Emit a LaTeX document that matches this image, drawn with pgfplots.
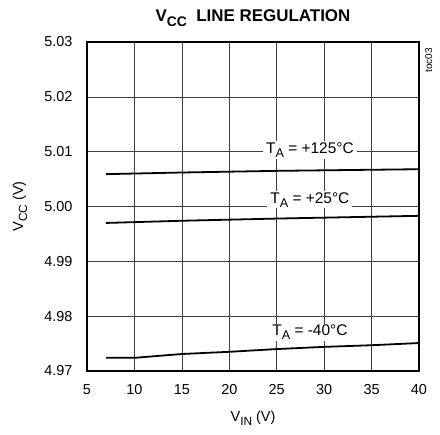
\documentclass[border=0pt]{standalone}
\usepackage{fontspec}
\setmainfont{Liberation Sans}
\usepackage{pgfplots}
\pgfplotsset{compat=1.18}
\newcommand{\sub}[1]{\raisebox{-0.28em}{\scalebox{0.82}{#1}}}

\begin{document}
\begin{tikzpicture}
\begin{axis}[
    at={(0,0)}, anchor=south west,
    scale only axis,
    width=332bp, height=329bp,
    xmin=5, xmax=40,
    ymin=4.97, ymax=5.03,
    xtick={5,10,...,40},
    ytick={4.97,4.98,4.99,5.00,5.01,5.02,5.03},
    /pgf/number format/assume math mode=true,
    ticklabel style={font=\fontsize{14.5}{14.5}\selectfont},
    xticklabel style={yshift=-10bp},
    yticklabel style={xshift=-11bp, /pgf/number format/.cd, fixed, fixed zerofill, precision=2},
    tick style={draw=none},
    grid=major,
    grid style={black!75, line width=0.6pt},
    axis line style={line width=1.8pt},
    xlabel={V\sub{IN} (V)},
    ylabel={V\sub{CC} (V)},
    label style={font=\fontsize{14.5}{14.5}\selectfont},
    xlabel style={at={(axis description cs:0.5,0)}, anchor=center, yshift=-47bp},
    ylabel style={at={(axis description cs:0,0.5)}, anchor=center, rotate=0, yshift=67bp},
    title={\bfseries V\sub{CC}\ \ LINE REGULATION},
    title style={font=\fontsize{17}{17}\selectfont, at={(axis description cs:0.5,1)}, anchor=center, yshift=18bp},
    clip=false,
]
\addplot[black, line width=1.8pt] coordinates {
    (7, 5.0059) (15, 5.0062) (25, 5.0065) (40, 5.0068)
};
\addplot[black, line width=1.8pt] coordinates {
    (7, 4.9970) (15, 4.9974) (25, 4.9978) (40, 4.9983)
};
\addplot[black, line width=1.8pt] coordinates {
    (7, 4.9724) (10, 4.9724) (15, 4.9731) (20, 4.9735) (25, 4.9740) (30, 4.9744) (35, 4.9747) (40, 4.9751)
};
\node[fill=white, inner xsep=3pt, inner ysep=1pt, font=\fontsize{15.5}{15.5}\selectfont] at (axis cs:28.5,5.0103) {T\sub{A} = +125°C};
\node[fill=white, inner xsep=3pt, inner ysep=1pt, font=\fontsize{15.5}{15.5}\selectfont] at (axis cs:28.5,5.0012) {T\sub{A} = +25°C};
\node[fill=white, inner xsep=3pt, inner ysep=1pt, font=\fontsize{15.5}{15.5}\selectfont] at (axis cs:28.5,4.9771) {T\sub{A} = -40°C};
\node[rotate=90, anchor=north east, font=\fontsize{10}{10}\selectfont, inner sep=0pt] at ([xshift=6bp,yshift=-6bp]current axis.north east) {toc03};
\end{axis}
\pgfresetboundingbox
\path[use as bounding box] (-87bp,-64bp) rectangle (353bp,371bp);
\end{tikzpicture}
\end{document}
